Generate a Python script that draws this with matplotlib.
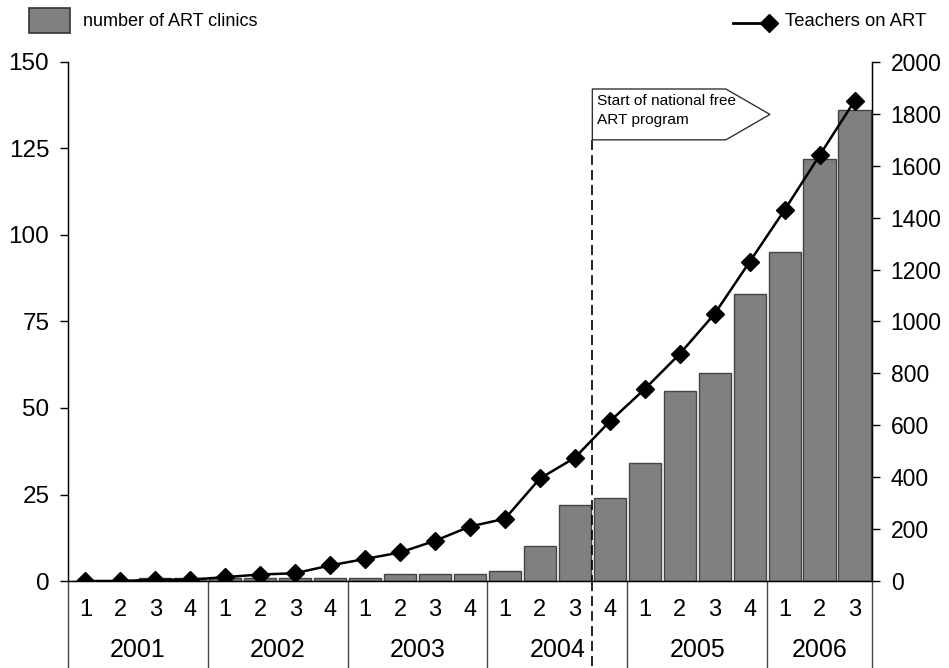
import matplotlib
matplotlib.use("Agg")
import matplotlib.pyplot as plt
from matplotlib.patches import Polygon, Rectangle
from matplotlib.lines import Line2D
import numpy as np

plt.rcParams['font.family'] = ['Liberation Sans', 'DejaVu Sans']

years = ["2001", "2002", "2003", "2004", "2005", "2006"]
quarters = [1, 2, 3, 4, 1, 2, 3, 4, 1, 2, 3, 4, 1, 2, 3, 4, 1, 2, 3, 4, 1, 2, 3]
quarter_year = ["2001"] * 4 + ["2002"] * 4 + ["2003"] * 4 + ["2004"] * 4 + ["2005"] * 4 + ["2006"] * 3
clinics = [0, 0, 1, 1, 1, 1, 1, 1, 1, 2, 2, 2, 3, 10, 22, 24, 34, 55, 60, 83, 95, 122, 136]
teachers = [0, 0, 5, 5, 15, 25, 30, 60, 85, 110, 155, 210, 240, 395, 475, 615,
            740, 875, 1030, 1230, 1430, 1640, 1850]
annotation_text = "Start of national free\nART program"

W, H = 949, 668
fig = plt.figure(figsize=(W / 100, H / 100), dpi=100)
L, R, T, B = 68, 872, 62, 581
ax = fig.add_axes([L / W, (H - B) / H, (R - L) / W, (B - T) / H])
ax2 = ax.twinx()

x = np.arange(len(clinics))
ax.bar(x, clinics, width=0.92, color="#808080", edgecolor="#444444", linewidth=1.0, zorder=2)
ax.set_xlim(-0.5, len(clinics) - 0.5)
ax.set_ylim(0, 150)
ax.set_yticks([0, 25, 50, 75, 100, 125, 150])
ax2.set_ylim(0, 2000)
ax2.set_yticks(range(0, 2001, 200))

ax2.plot(x, teachers, color="black", linewidth=1.8, marker="D", markersize=9,
         markerfacecolor="black", zorder=5)

for a in (ax, ax2):
    a.spines['top'].set_visible(False)
    a.tick_params(axis='x', length=0)
ax.tick_params(axis='y', direction='out', length=5.5, width=1, labelsize=17.5, pad=8)
ax2.tick_params(axis='y', direction='out', length=5.5, width=1, labelsize=16.5, pad=8)
ax.spines['left'].set_linewidth(1)
ax2.spines['right'].set_linewidth(1)
ax.spines['bottom'].set_linewidth(1)
ax.set_xticks([])

# category axis below
ytrans = ax.get_xaxis_transform()
bottom_frac = -(H - B) / (B - T)
for sep in [-0.5, 3.5, 7.5, 11.5, 15.5, 19.5, 22.5]:
    ax.plot([sep, sep], [0, bottom_frac], transform=ytrans, color="#444444",
            linewidth=1, clip_on=False)
qy = -(610 - B) / (B - T)
yy = -(650 - B) / (B - T)
for i, q in enumerate(quarters):
    ax.text(i, qy, str(q), transform=ytrans, ha="center", va="center", fontsize=17)
for yr in years:
    idx = [i for i, v in enumerate(quarter_year) if v == yr]
    ax.text(np.mean(idx), yy, yr, transform=ytrans, ha="center", va="center", fontsize=18)

# dashed start line
ax2.plot([14.5, 14.5], [1700, 0], color="black", linewidth=1.2, linestyle=(0, (6, 3)), zorder=6)
ax.plot([14.5, 14.5], [0, bottom_frac], transform=ytrans, color="black", linewidth=1.2,
        linestyle=(0, (6, 3)), clip_on=False)
poly = Polygon([[14.5, 1700], [14.5, 1896], [18.32, 1896], [19.58, 1798], [18.32, 1700]],
               closed=True, facecolor="white", edgecolor="#333333", linewidth=1, zorder=6)
ax2.add_patch(poly)
ax2.text(14.62, 1813, annotation_text, ha="left", va="center", fontsize=11.1,
         linespacing=1.5, zorder=7)

# legend
fig.patches.append(Rectangle((29 / W, (H - 33) / H), 41 / W, 25 / H, transform=fig.transFigure,
                             facecolor="#808080", edgecolor="#333333", linewidth=1.2))
fig.text(83 / W, (H - 21) / H, "number of ART clinics", ha="left", va="center", fontsize=13)
fig.lines.append(Line2D([733 / W, 767 / W], [(H - 23) / H, (H - 23) / H], transform=fig.transFigure,
                        color="black", linewidth=2))
fig.lines.append(Line2D([769 / W], [(H - 23) / H], transform=fig.transFigure, color="black",
                        marker="D", markersize=9, linestyle="none"))
fig.text(785 / W, (H - 22) / H, "Teachers on ART", ha="left", va="center", fontsize=13.3)

fig.savefig("out.png", dpi=100)
